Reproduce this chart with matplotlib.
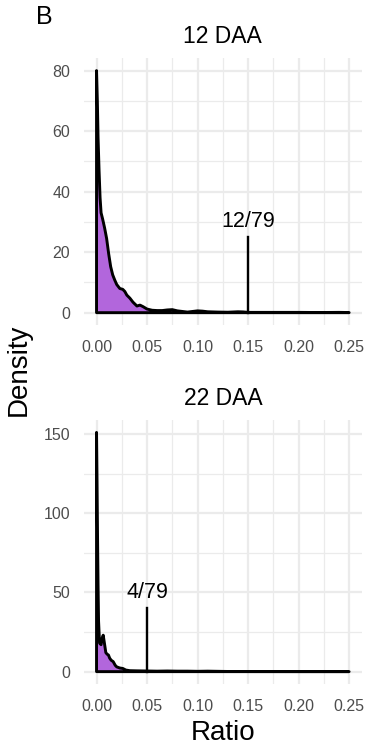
import numpy as np
import matplotlib
matplotlib.use('Agg')
import matplotlib.pyplot as plt
from matplotlib.ticker import MultipleLocator

plt.rcParams['font.family'] = ['Liberation Sans', 'DejaVu Sans']

# density estimates
x12 = [0, 0.0008, 0.0015, 0.0025, 0.0035, 0.0045, 0.006, 0.008, 0.010, 0.012,
       0.014, 0.016, 0.018, 0.020, 0.023, 0.026, 0.028, 0.030, 0.033, 0.036,
       0.040, 0.043, 0.046, 0.050, 0.055, 0.060, 0.065, 0.070, 0.075, 0.080,
       0.085, 0.090, 0.095, 0.100, 0.105, 0.110, 0.120, 0.130, 0.140, 0.145,
       0.150, 0.160, 0.180, 0.200, 0.220, 0.240, 0.250]
y12 = [80, 70, 58, 47, 38, 33, 31, 28, 24.5, 19.5,
       15.2, 12.5, 10.8, 9.3, 8.0, 7.7, 7.0, 5.8, 4.8, 3.5,
       2.2, 2.5, 2.0, 1.2, 0.8, 0.7, 0.7, 0.9, 1.0, 0.6,
       0.4, 0.2, 0.4, 0.6, 0.5, 0.3, 0.2, 0.15, 0.3, 0.25,
       0.1, 0.1, 0.1, 0.1, 0.05, 0.1, 0.05]

x22 = [0, 0.0005, 0.001, 0.0015, 0.002, 0.003, 0.0045, 0.0055, 0.0066, 0.0078,
       0.0092, 0.0105, 0.0118, 0.013, 0.0145, 0.0165, 0.0185, 0.020, 0.023, 0.026,
       0.029, 0.033, 0.040, 0.050, 0.060, 0.070, 0.080, 0.090, 0.100, 0.110,
       0.120, 0.130, 0.150, 0.200, 0.250]
y22 = [151, 120, 85, 55, 32, 18, 17, 21, 23, 18,
       12, 11, 10.5, 8.5, 7.2, 6.3, 4.0, 3.0, 2.3, 2.0,
       1.0, 0.6, 0.5, 0.4, 0.3, 0.4, 0.3, 0.3, 0.2, 0.3,
       0.2, 0.1, 0.05, 0.03, 0.02]

panels = ['12 DAA', '22 DAA']
marks = [0.15, 0.05]
mark_h = [25, 40]
mark_lab = ['12/79', '4/79']
ylims = [(-4, 84), (-7.6, 158.6)]
ymajor = [20, 50]

purple = '#B266DC'

fig = plt.figure(figsize=(3.68, 7.48), dpi=100)
axes = [fig.add_axes([0.228, 0.5658, 0.755, 0.356]),
        fig.add_axes([0.228, 0.0860, 0.755, 0.352])]

data = [(x12, y12), (x22, y22)]
for i, ax in enumerate(axes):
    x, y = data[i]
    ax.fill(np.r_[x, x[-1], x[0]], np.r_[y, 0, 0], facecolor=purple,
            edgecolor='black', linewidth=2.1, joinstyle='round', zorder=3)
    ax.plot([marks[i], marks[i]], [0, mark_h[i]], color='black', lw=1.7, zorder=4)
    ax.text(marks[i], mark_h[i] + ylims[i][1] * 0.02, mark_lab[i], ha='center',
            va='bottom', fontsize=15.5, zorder=5)
    ax.set_xlim(-0.0125, 0.2625)
    ax.set_ylim(*ylims[i])
    ax.xaxis.set_major_locator(MultipleLocator(0.05))
    ax.xaxis.set_minor_locator(MultipleLocator(0.025))
    ax.yaxis.set_major_locator(MultipleLocator(ymajor[i]))
    ax.yaxis.set_minor_locator(MultipleLocator(ymajor[i] / 2))
    ax.xaxis.set_major_formatter(lambda v, p: f'{v:.2f}')
    ax.grid(which='major', color='#EBEBEB', lw=1.6, zorder=0)
    ax.grid(which='minor', color='#EBEBEB', lw=0.9, zorder=0)
    ax.tick_params(which='both', length=0, labelsize=11.5, colors='#4D4D4D', pad=10)
    ax.tick_params(axis='x', pad=11)
    for s in ax.spines.values():
        s.set_visible(False)
    ax.set_title(panels[i], fontsize=16.5, pad=11)

fig.text(0.097, 0.977, 'B', fontsize=18, ha='left', va='center')
fig.text(0.052, 0.505, 'Density', fontsize=20, rotation=90, ha='center', va='center')
fig.text(0.606, 0.020, 'Ratio', fontsize=20, ha='center', va='center')

fig.savefig('out.png', dpi=100)
